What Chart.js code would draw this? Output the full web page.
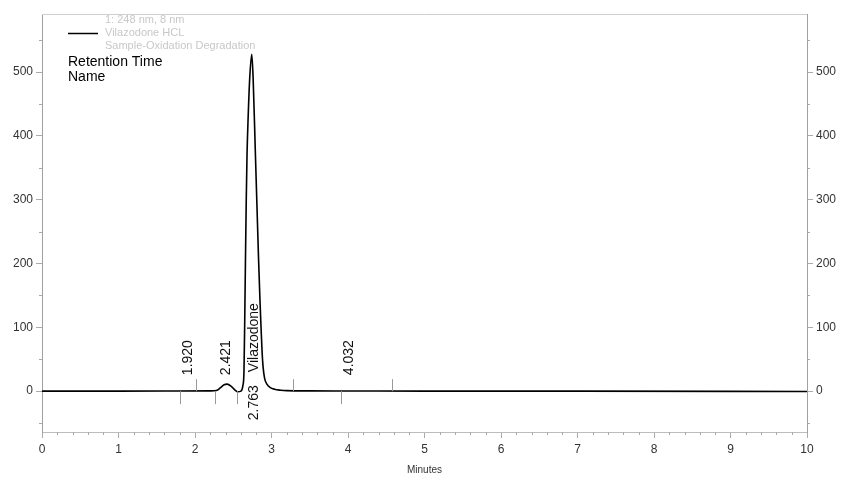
<!DOCTYPE html>
<html>
<head>
<meta charset="utf-8">
<script src="https://cdn.jsdelivr.net/npm/chart.js@4/dist/chart.umd.min.js"></script>
<style>
  html, body { margin:0; padding:0; background:#fff; }
  #wrap { width:851px; height:480px; }
</style>
</head>
<body>
<div id="wrap"><canvas id="chart" width="851" height="480"></canvas></div>
<script>
// ====== DATA ======
const times  = [0, 1.0, 1.8, 2.2, 2.28, 2.33, 2.38, 2.42, 2.47, 2.52, 2.56, 2.60,
                2.625, 2.64, 2.65, 2.66, 2.67, 2.68, 2.695, 2.715, 2.742, 2.76, 2.788,
                2.81, 2.83, 2.85, 2.865, 2.876, 2.89, 2.91, 2.94, 2.98, 3.04, 3.12, 3.20,
                3.5, 4.0, 5.0, 7.0, 10.0];
const signal = [0, 0, 0.2, 0.5, 1, 5, 10, 11, 8, 2, -1, 0,
                8, 30, 110, 210, 300, 370, 430, 490, 528, 490, 378,
                290, 210, 140, 95, 64, 38, 20, 11, 6, 3, 1.5, 0.8,
                0.4, 0.3, 0.1, 0, -0.5];

const peakTimes  = [1.920, 2.421, 2.763, 4.032];
const peakLabels = ['1.920', '2.421', '2.763', '4.032'];
const peakNames  = ['', '', 'Vilazodone', ''];
const markAbove  = [2.01, 3.28, 4.575];
const markBelow  = [1.80, 2.26, 2.55, 3.91];

const legendLines = ['1: 248 nm, 8 nm', 'Vilazodone HCL', 'Sample-Oxidation Degradation'];
const yTicks = [0, 100, 200, 300, 400, 500];

// ====== PLOT BOX ======
const BOX = { left: 42, right: 807, top: 14, bottom: 432 };
const FONT = 'Arial, "Liberation Sans", sans-serif';

function vtext(ctx, txt, x, y, align) {
  ctx.save();
  ctx.translate(x, y);
  ctx.rotate(-Math.PI / 2);
  ctx.textAlign = align;
  ctx.textBaseline = 'middle';
  ctx.fillText(txt, 0, 0);
  ctx.restore();
}

const extras = {
  id: 'extras',
  afterDraw(c) {
    const ctx = c.ctx, xs = c.scales.x, ys = c.scales.y;
    const y0 = ys.getPixelForValue(0);
    ctx.save();

    // top border
    ctx.strokeStyle = '#cfcfcf'; ctx.lineWidth = 1;
    ctx.beginPath(); ctx.moveTo(BOX.left, BOX.top + 0.5); ctx.lineTo(BOX.right, BOX.top + 0.5); ctx.stroke();

    // minor ticks
    ctx.strokeStyle = '#aaa';
    ctx.beginPath();
    for (let v = -50; v <= 550; v += 50) {
      if (v % 100 === 0) continue;
      const p = Math.round(ys.getPixelForValue(v)) + 0.5;
      ctx.moveTo(BOX.left - 3, p); ctx.lineTo(BOX.left, p);
      ctx.moveTo(BOX.right, p); ctx.lineTo(BOX.right + 3, p);
    }
    for (let i = 0; i <= 50; i++) {
      if (i % 5 === 0) continue;
      const p = Math.round(xs.getPixelForValue(i / 5)) + 0.5;
      ctx.moveTo(p, BOX.bottom); ctx.lineTo(p, BOX.bottom + 3);
    }
    ctx.stroke();

    // integration markers
    ctx.strokeStyle = '#999';
    ctx.beginPath();
    markAbove.forEach(t => {
      const p = Math.round(xs.getPixelForValue(t)) + 0.5;
      ctx.moveTo(p, y0 - 12); ctx.lineTo(p, y0);
    });
    markBelow.forEach(t => {
      const p = Math.round(xs.getPixelForValue(t)) + 0.5;
      ctx.moveTo(p, y0); ctx.lineTo(p, y0 + 13);
    });
    ctx.stroke();

    // peak labels
    ctx.fillStyle = '#111';
    ctx.font = '14px ' + FONT;
    peakTimes.forEach((t, i) => {
      const px = xs.getPixelForValue(t);
      if (peakNames[i]) {
        vtext(ctx, peakNames[i], px + 1, y0 - 19, 'left');
        vtext(ctx, peakLabels[i], px + 1, y0 - 6, 'right');
      } else {
        vtext(ctx, peakLabels[i], px - 1, y0 - 16, 'left');
      }
    });

    // legend block
    ctx.strokeStyle = '#000'; ctx.lineWidth = 1.5;
    ctx.beginPath(); ctx.moveTo(68, 33.5); ctx.lineTo(98, 33.5); ctx.stroke();
    ctx.fillStyle = '#c8c8c8';
    ctx.font = '11px ' + FONT;
    ctx.textAlign = 'left'; ctx.textBaseline = 'middle';
    legendLines.forEach((s, i) => ctx.fillText(s, 105, 20 + i * 13));
    ctx.fillStyle = '#000';
    ctx.font = '14px ' + FONT;
    ctx.fillText('Retention Time', 68, 62);
    ctx.fillText('Name', 68, 77);

    ctx.restore();
  }
};

const yCommon = {
  type: 'linear',
  min: -64, max: 591,
  afterBuildTicks: s => { s.ticks = yTicks.map(v => ({ value: v })); },
  ticks: { color: '#333', font: { size: 12, family: FONT }, padding: 3 },
  grid: { drawOnChartArea: false, tickLength: 6, color: '#aaa', tickColor: '#aaa' },
  border: { color: '#a0a0a0' }
};

new Chart(document.getElementById('chart'), {
  type: 'line',
  data: {
    datasets: [{
      data: times.map((t, i) => ({ x: t, y: signal[i] })),
      borderColor: '#000',
      borderWidth: 1.6,
      pointRadius: 0,
      cubicInterpolationMode: 'monotone',
      fill: false
    }]
  },
  options: {
    responsive: false,
    animation: false,
    layout: { padding: { top: BOX.top, left: 0, right: 0, bottom: 0 } },
    plugins: { legend: { display: false }, tooltip: { enabled: false } },
    scales: {
      x: {
        type: 'linear', min: 0, max: 10,
        ticks: { stepSize: 1, color: '#333', font: { size: 12, family: FONT }, padding: 4 },
        grid: { drawOnChartArea: false, tickLength: 6, tickColor: '#aaa' },
        border: { color: '#bdbdbd' },
        title: { display: true, text: 'Minutes', color: '#333', font: { size: 10, family: FONT }, padding: { top: 2 } },
        afterFit: s => { s.height = 480 - BOX.bottom; }
      },
      y: { ...yCommon, position: 'left', afterFit: s => { s.width = BOX.left; } },
      y2: { ...yCommon, position: 'right', afterFit: s => { s.width = 851 - BOX.right; } }
    }
  },
  plugins: [extras]
});
</script>
</body>
</html>
